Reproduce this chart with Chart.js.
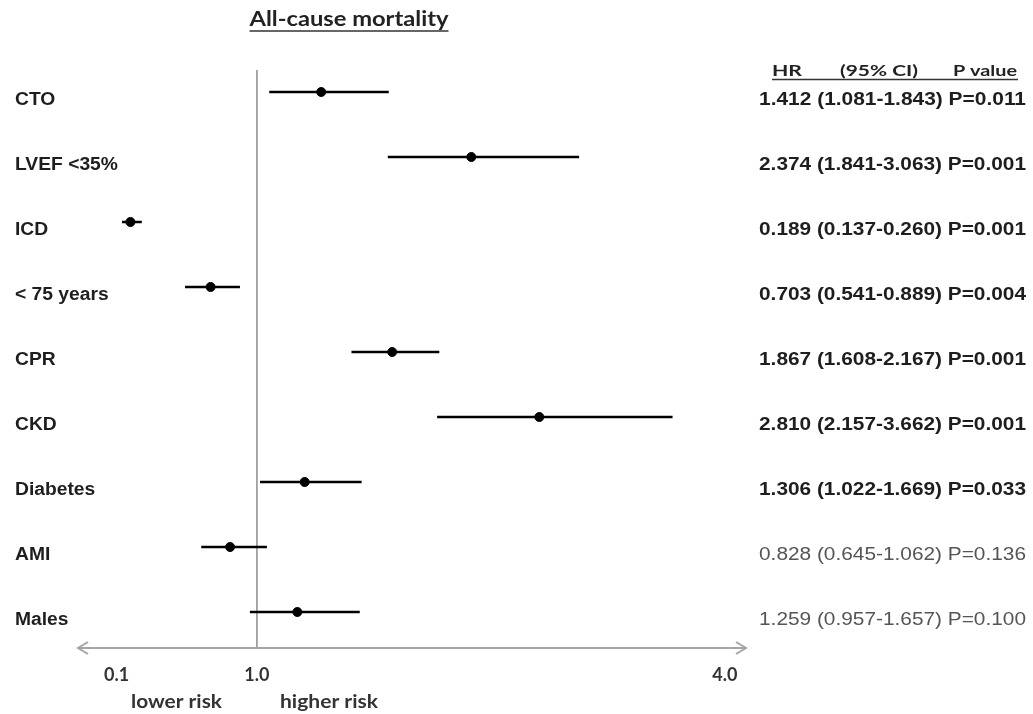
<!DOCTYPE html>
<html>
<head>
<meta charset="utf-8">
<script src="https://cdn.jsdelivr.net/npm/chart.js@4/dist/chart.umd.min.js"></script>
<style>
html,body{margin:0;padding:0;background:#fff;}
#wrap{width:1033px;height:714px;position:relative;}
</style>
</head>
<body>
<div id="wrap"><canvas id="c" width="1033" height="714"></canvas></div>
<script>
const categories = ['CTO', 'LVEF <35%', 'ICD', '< 75 years', 'CPR', 'CKD', 'Diabetes', 'AMI', 'Males'];
const hazardRatios = [1.412, 2.374, 0.189, 0.703, 1.867, 2.810, 1.306, 0.828, 1.259];
const ciLower = [1.081, 1.841, 0.137, 0.541, 1.608, 2.157, 1.022, 0.645, 0.957];
const ciUpper = [1.843, 3.063, 0.260, 0.889, 2.167, 3.662, 1.669, 1.062, 1.657];
const pValues = ['0.011', '0.001', '0.001', '0.004', '0.001', '0.001', '0.033', '0.136', '0.100'];
const significant = [true, true, true, true, true, true, true, false, false];
const xTickValues = [0.1, 1.0, 4.0];
const titleText = 'All-cause mortality';
const headerParts = ['HR', '(95% CI)', 'P value'];
const riskLabels = ['lower risk', 'higher risk'];

function drawFit(ctx, text, x, y, font, width, align) {
  ctx.save();
  ctx.font = font;
  const w = ctx.measureText(text).width;
  const sx = width / w;
  ctx.textAlign = 'left';
  let x0 = x;
  if (align === 'center') x0 = x - width / 2;
  else if (align === 'right') x0 = x - width;
  ctx.translate(x0, y);
  ctx.scale(sx, 1);
  ctx.fillText(text, 0, 0);
  ctx.restore();
}

const annotate = {
  id: 'annotate',
  beforeDatasetsDraw(chart) {
    const ctx = chart.ctx;
    const x = chart.scales.x;
    const area = chart.chartArea;
    ctx.save();
    const x1 = x.getPixelForValue(1);
    const ay = area.bottom + 3.5;
    ctx.strokeStyle = '#8c8c8c';
    ctx.lineWidth = 1.5;
    ctx.beginPath();
    ctx.moveTo(x1, 70);
    ctx.lineTo(x1, ay);
    ctx.stroke();
    ctx.strokeStyle = '#a5a5a5';
    ctx.lineWidth = 2;
    ctx.beginPath();
    ctx.moveTo(area.left, ay);
    ctx.lineTo(area.right, ay);
    ctx.moveTo(area.left + 10, ay - 6);
    ctx.lineTo(area.left, ay);
    ctx.lineTo(area.left + 10, ay + 6);
    ctx.moveTo(area.right - 10, ay - 6);
    ctx.lineTo(area.right, ay);
    ctx.lineTo(area.right - 10, ay + 6);
    ctx.stroke();
    ctx.restore();
  },
  afterDraw(chart) {
    const ctx = chart.ctx;
    const y = chart.scales.y;
    ctx.save();
    ctx.textBaseline = 'alphabetic';
    ctx.fillStyle = '#222';
    drawFit(ctx, titleText, 349, 26, 'bold 20px Lato', 199, 'center');
    ctx.strokeStyle = '#333';
    ctx.lineWidth = 1.5;
    ctx.beginPath();
    ctx.moveTo(249.5, 31);
    ctx.lineTo(448.5, 31);
    ctx.stroke();
    drawFit(ctx, headerParts[0], 772, 76, 'bold 16px Lato', 30, 'left');
    drawFit(ctx, headerParts[1], 840, 76, 'bold 16px Lato', 78, 'left');
    drawFit(ctx, headerParts[2], 953, 76, 'bold 16px Lato', 64, 'left');
    ctx.beginPath();
    ctx.moveTo(772, 79.5);
    ctx.lineTo(1018, 79.5);
    ctx.stroke();
    ctx.textBaseline = 'middle';
    categories.forEach((c, i) => {
      const yy = y.getPixelForValue(i) + 8;
      ctx.fillStyle = '#1e1e1e';
      ctx.save();
      ctx.font = 'bold 18px "Liberation Sans"';
      ctx.translate(15, yy);
      ctx.scale(1.07, 1);
      ctx.fillText(c, 0, 0);
      ctx.restore();
      const txt = hazardRatios[i].toFixed(3) + ' (' + ciLower[i].toFixed(3) + '-' + ciUpper[i].toFixed(3) + ') P=' + pValues[i];
      ctx.fillStyle = significant[i] ? '#1e1e1e' : '#555';
      drawFit(ctx, txt, 759, yy, (significant[i] ? 'bold ' : '') + '18px "Liberation Sans"', 267, 'left');
    });
    ctx.textBaseline = 'alphabetic';
    ctx.fillStyle = '#333';
    drawFit(ctx, riskLabels[0], 176.5, 708, 'bold 18px Lato', 91, 'center');
    drawFit(ctx, riskLabels[1], 329, 708, 'bold 18px Lato', 98, 'center');
    ctx.restore();
  }
};

new Chart(document.getElementById('c'), {
  type: 'bar',
  data: {
    labels: categories,
    datasets: [
      {
        type: 'bar',
        indexAxis: 'y',
        data: ciLower.map((l, i) => [l, ciUpper[i]]),
        backgroundColor: '#000',
        borderWidth: 0,
        barThickness: 2,
        grouped: false
      },
      {
        type: 'scatter',
        data: hazardRatios.map((v, i) => ({x: v, y: categories[i]})),
        backgroundColor: '#000',
        borderColor: '#000',
        pointRadius: 4.5,
        pointHoverRadius: 4.5
      }
    ]
  },
  options: {
    responsive: false,
    animation: false,
    events: [],
    layout: {padding: {left: 78, top: 59.5, right: 287, bottom: 0}},
    plugins: {legend: {display: false}, tooltip: {enabled: false}, title: {display: false}},
    scales: {
      x: {
        type: 'linear',
        offset: false,
        min: -0.147,
        max: 4.135,
        afterBuildTicks(scale) { scale.ticks = xTickValues.map(v => ({value: v})); },
        afterFit(scale) { scale.height = 69.5; },
        grid: {display: false, drawTicks: false, offset: false},
        border: {display: false},
        ticks: {
          padding: 20,
          autoSkip: false,
          maxRotation: 0,
          color: '#333',
          font: {family: 'Lato', weight: 'bold', size: 18},
          callback: v => Number(v).toFixed(1)
        }
      },
      y: {
        type: 'category',
        offset: true,
        grid: {display: false, drawTicks: false},
        border: {display: false},
        ticks: {display: false}
      }
    }
  },
  plugins: [annotate]
});
</script>
</body>
</html>
